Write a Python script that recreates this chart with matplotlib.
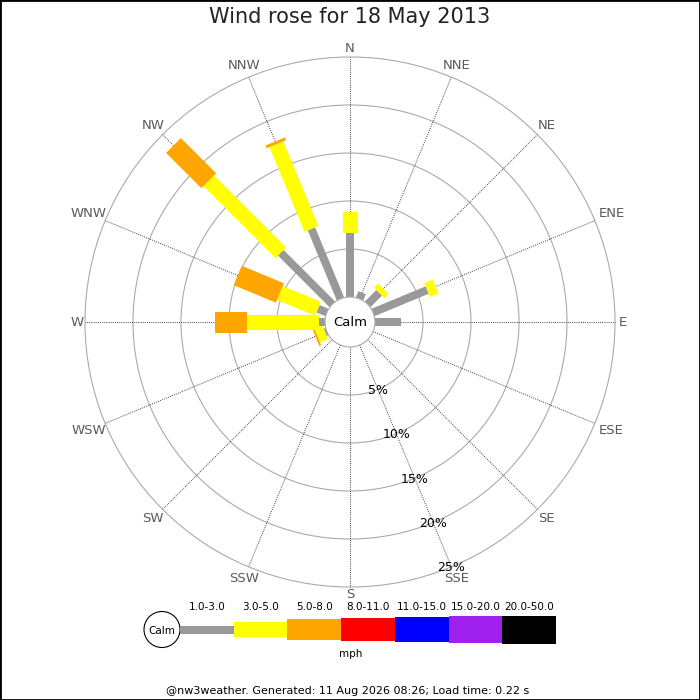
import numpy as np
import matplotlib.pyplot as plt
from matplotlib.patches import Polygon, Circle, Rectangle

# wind rose data, percent of time per direction and speed class
dirs = ["N", "NNE", "NE", "ENE", "E", "ESE", "SE", "SSE",
        "S", "SSW", "SW", "WSW", "W", "WNW", "NW", "NNW"]
speed_bins = ["1.0-3.0", "3.0-5.0", "5.0-8.0", "8.0-11.0", "11.0-15.0", "15.0-20.0", "20.0-50.0"]
colors = ["#999999", "#ffff00", "#ffa500", "#ff0000", "#0000ff", "#a020f0", "#000000"]
bar_w = [8, 15, 21, 23, 25, 27, 28]

s_1_3 = [6.65, 0.7, 1.7, 6.1, 2.7, 0, 0, 0, 0, 0, 0, 0.2, 0.6, 1.0, 7.6, 7.9]
s_3_5 = [2.2, 0, 0.6, 0.95, 0, 0, 0, 0, 0, 0, 0, 0.9, 7.55, 4.3, 10.6, 9.55]
s_5_8 = [0, 0, 0, 0, 0, 0, 0, 0, 0, 0, 0, 0.2, 3.3, 4.75, 5.2, 0.3]
s_8_11 = [0] * 16
s_11_15 = [0] * 16
s_15_20 = [0] * 16
s_20_50 = [0] * 16
series = [s_1_3, s_3_5, s_5_8, s_8_11, s_11_15, s_15_20, s_20_50]

rings = [5, 10, 15, 20, 25]

cx, cy = 350, 322
calm_r = 25
px_per_pct = 9.6

def rad(p):
    return calm_r + p * px_per_pct

fig = plt.figure(figsize=(7, 7), dpi=100)
ax = fig.add_axes([0, 0, 1, 1])
ax.set_xlim(0, 700)
ax.set_ylim(700, 0)
ax.set_aspect("equal")
ax.axis("off")

# rings
for p in rings:
    ax.add_patch(Circle((cx, cy), rad(p), fill=False, ec="#aaaaaa", lw=0.8, zorder=1))

# radial lines and direction labels
for i, d in enumerate(dirs):
    a = np.deg2rad(i * 22.5)
    ux, uy = np.sin(a), -np.cos(a)
    ax.plot([cx + ux * calm_r, cx + ux * rad(25)], [cy + uy * calm_r, cy + uy * rad(25)],
            color="#444444", lw=0.7, ls=(0, (1, 1.2)), zorder=2)
    w = 9.5 * len(d)
    rl = 268 + 0.5 * (w * abs(ux) + 10 * abs(uy))
    ax.text(cx + ux * rl, cy + uy * rl, d, ha="center", va="center",
            fontsize=9.5, color="#5a5a5a", zorder=5)

# bars
for i in range(len(dirs)):
    a = np.deg2rad(i * 22.5)
    ux, uy = np.sin(a), -np.cos(a)
    vx, vy = np.cos(a), np.sin(a)
    start = 0
    for k, s in enumerate(series):
        val = s[i]
        if val <= 0:
            continue
        r0, r1 = rad(start), rad(start + val)
        hw = bar_w[k] / 2
        pts = [(cx + ux * r0 + vx * hw, cy + uy * r0 + vy * hw),
               (cx + ux * r1 + vx * hw, cy + uy * r1 + vy * hw),
               (cx + ux * r1 - vx * hw, cy + uy * r1 - vy * hw),
               (cx + ux * r0 - vx * hw, cy + uy * r0 - vy * hw)]
        ax.add_patch(Polygon(pts, closed=True, fc=colors[k], ec="none", zorder=3))
        start += val

# calm circle
ax.add_patch(Circle((cx, cy), calm_r, fc="white", ec="#aaaaaa", lw=0.8, zorder=4))
ax.text(cx, cy + 1, "Calm", ha="center", va="center", fontsize=9.5, zorder=5)

# percent labels along SSE
a = np.deg2rad(157.5)
for p in rings:
    ax.text(cx + np.sin(a) * rad(p), cy - np.cos(a) * rad(p) + 1, "%d%%" % p,
            ha="center", va="center", fontsize=9, color="black", zorder=6)

# title
ax.text(350, 17, "Wind rose for 18 May 2013", ha="center", va="center", fontsize=15, color="#222222")

# legend
ly = 629.5
ax.add_patch(Circle((162, ly), 18, fc="white", ec="black", lw=0.8))
ax.text(162, ly + 1, "Calm", ha="center", va="center", fontsize=7.5)
x0 = 180
seg = 53.7
for k, lab in enumerate(speed_bins):
    ax.add_patch(Rectangle((x0 + k * seg, ly - bar_w[k] / 2), seg, bar_w[k], fc=colors[k], ec="none"))
    ax.text(x0 + k * seg + seg / 2, 607, lab, ha="center", va="center", fontsize=7.5)
ax.text(351, 654, "mph", ha="center", va="center", fontsize=7.5)

# footer
ax.text(348, 691, "@nw3weather. Generated: 11 Aug 2026 08:26; Load time: 0.22 s",
        ha="center", va="center", fontsize=8)

# border
fig.patches.append(Rectangle((0, 0), 1, 1, transform=fig.transFigure, fill=False,
                             ec="black", lw=2))

fig.savefig("out.png", dpi=100)
